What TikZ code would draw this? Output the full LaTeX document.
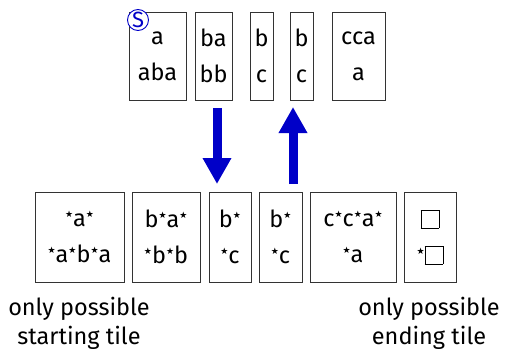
\documentclass[tikz,border=0pt]{standalone}
\usepackage{fontspec}
\setmainfont{Fira Sans}
\newfontfamily\symfont{DejaVu Sans}
\usetikzlibrary{arrows.meta}
\definecolor{arrowblue}{RGB}{0,0,200}
\newcommand{\st}{\raisebox{0.4em}{\symfont\fontsize{9}{9}\selectfont ★}}
\newcommand{\sq}{{\setlength{\fboxsep}{0pt}\setlength{\fboxrule}{0.9pt}\fbox{\rule{0pt}{17pt}\hspace{17pt}}}}
\begin{document}
\begin{tikzpicture}[x=1pt,y=-1pt,
  tile/.style={draw=black!80,line width=0.9pt,inner sep=0pt,align=center,
    font=\fontsize{23.5}{36}\selectfont},
  note/.style={align=center,font=\fontsize{23.5}{29}\selectfont},
  bigarrow/.style={arrowblue,line width=9pt,-{Triangle[width=27pt,length=26pt]}}]
\useasboundingbox (0,0) rectangle (505,353);

% upper row of dominoes
\node[tile,minimum width=57pt,minimum height=88pt] (t1) at (157.5,56) {a\\aba};
\node[tile,minimum width=37pt,minimum height=88pt] (t2) at (213.5,56) {ba\\bb};
\node[tile,minimum width=23pt,minimum height=88pt] (t3) at (261.5,56) {b\\c};
\node[tile,minimum width=23pt,minimum height=88pt] (t4) at (301.5,56) {b\\c};
\node[tile,minimum width=53pt,minimum height=88pt] (t5) at (358.5,56) {cca\\a};

% start marker
\node[circle,draw=arrowblue,fill=white,line width=0.9pt,minimum size=21pt,inner sep=0pt,
  text=arrowblue,font=\fontsize{22}{22}\selectfont] (start) at (138,20) {S};

% lower row of dominoes
\node[tile,minimum width=89pt,minimum height=90pt] (b1) at (79.5,237) {\st a\st\\\st a\st b\st a};
\node[tile,minimum width=68pt,minimum height=90pt] (b2) at (166,237) {b\st a\st\\\st b\st b};
\node[tile,minimum width=42pt,minimum height=90pt] (b3) at (230,237) {b\st\\\st c};
\node[tile,minimum width=43pt,minimum height=90pt] (b4) at (280.5,237) {b\st\\\st c};
\node[tile,minimum width=86pt,minimum height=90pt] (b5) at (353,237) {c\st c\st a\st\\\st a};
\node[tile,minimum width=52pt,minimum height=90pt] (b6) at (430,237) {\sq\\\st\sq};

% translation arrows
\coordinate (dtop) at (217,108);
\coordinate (dbot) at (217,184);
\coordinate (ubot) at (293,184);
\coordinate (utop) at (293,107);
\draw[bigarrow] (dtop) -- (dbot);
\draw[bigarrow] (ubot) -- (utop);

% captions
\node[note] (lcap) at (79,323) {only possible\\starting tile};
\node[note] (rcap) at (429,323) {only possible\\ending tile};
\end{tikzpicture}
\end{document}
